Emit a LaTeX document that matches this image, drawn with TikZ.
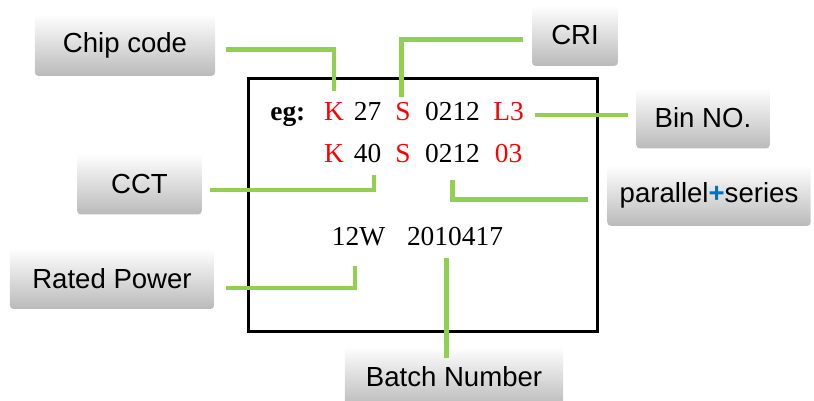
\documentclass[tikz,border=0pt]{standalone}
\usepackage{fontspec}
\setmainfont{Liberation Serif}
\setsansfont{Liberation Sans}
\usepackage{tikz}
\usetikzlibrary{positioning}
\definecolor{leadgreen}{RGB}{146,208,80}
\definecolor{plusblue}{RGB}{0,112,192}

\begin{document}
\begin{tikzpicture}[x=0.02cm, y=-0.02cm,
    tagbox/.style={rectangle, rounded corners=2pt, top color=white,
      bottom color=black!27, minimum height=34.6pt, inner sep=0pt,
      font=\sffamily\fontsize{15.7}{18}\selectfont},
    tok/.style={inner sep=0pt, text height=10.8pt, text depth=0pt,
      font=\fontsize{15.6}{18}\selectfont},
    redtok/.style={tok, text=red},
    lead/.style={draw=leadgreen, line width=2.8pt},
    plate/.style={draw, line width=1.7pt, minimum width=198.4pt,
      minimum height=144pt}, ]
    \useasboundingbox (0,0) rectangle (814,401);
    % Plate
    \node[plate] (plate) at (423,205) {};
    % Codes
    \node[tok, anchor=west] (eg) at (270,111.5) {\bfseries eg:};
    \node[redtok] (k1) at (334,111.5) {K}; \node[tok] (n27) at
    (367.5,111.5) {27}; \node[redtok] (s1) at (403,111.5) {S};
    \node[tok] (d1) at (452.5,111.5) {0212}; \node[redtok] (l3) at
    (508.5,111.5) {L3};
    \node[redtok] (k2) [below=12.4pt of k1] {K}; \node[tok] (n40)
    [below=12.4pt of n27] {40}; \node[redtok] (s2) [below=12.4pt of
    s1] {S}; \node[tok] (d2) [below=12.4pt of d1] {0212};
    \node[redtok] (o3) [below=12.4pt of l3] {03};
    \node[tok] (w12) at (358.5,236) {12W}; \node[tok] (b2) at
    (455,236) {2010417};
    % Labels
    \node[tagbox, minimum width=102.6pt, minimum height=35.1pt] (chip)
    at (125,45) {Chip code}; \node[tagbox, minimum width=70.9pt] (cct)
    at (139.5,184) {CCT}; \node[tagbox, minimum width=116.2pt] (rated)
    at (112,278.5) {Rated Power}; \node[tagbox, minimum
    width=124.2pt] (batch) at (454,376.5) {Batch Number};
    \node[tagbox, minimum width=48.8pt] (cri) at (575,35.5) {CRI};
    \node[tagbox, minimum width=76pt] (bin) at (703,118) {Bin NO.};
    \node[tagbox, minimum width=115.7pt] (mode) at (709,195.5)
    {parallel\textcolor{plusblue}{\textbf{+}}series};
    % Lines
    \draw[lead, shorten <=6pt] ([yshift=-2.8pt]chip.east) -|
    ([yshift=6.2pt]k1.north); \draw[lead, shorten <=4.5pt]
    ([yshift=-3.4pt]cct.east) -| ([xshift=3.7pt,yshift=-6.8pt]n40.south);
    \draw[lead, shorten <=5pt] ([yshift=-2.5pt]cri.west) -|
    ([xshift=-1pt,yshift=2.8pt]s1.north); \draw[lead, shorten
    <=4.5pt, shorten >=6.3pt] ([yshift=1.7pt]bin.west) --
    ([yshift=1.7pt]bin.west -| l3.east); \draw[lead, shorten
    <=10.8pt] ([yshift=-2.5pt]mode.west) -| ([yshift=-9.6pt]d2.south);
    \draw[lead, shorten <=6.5pt] ([yshift=-5.4pt]rated.east) -|
    ([xshift=-2pt,yshift=-11.3pt]w12.south); \draw[lead, shorten
    <=6.8pt, shorten >=-6.8pt] ([xshift=-5.1pt]b2.south) --
    ([xshift=-5.1pt]b2.south |- batch.north);
  \end{tikzpicture}
\end{document}
